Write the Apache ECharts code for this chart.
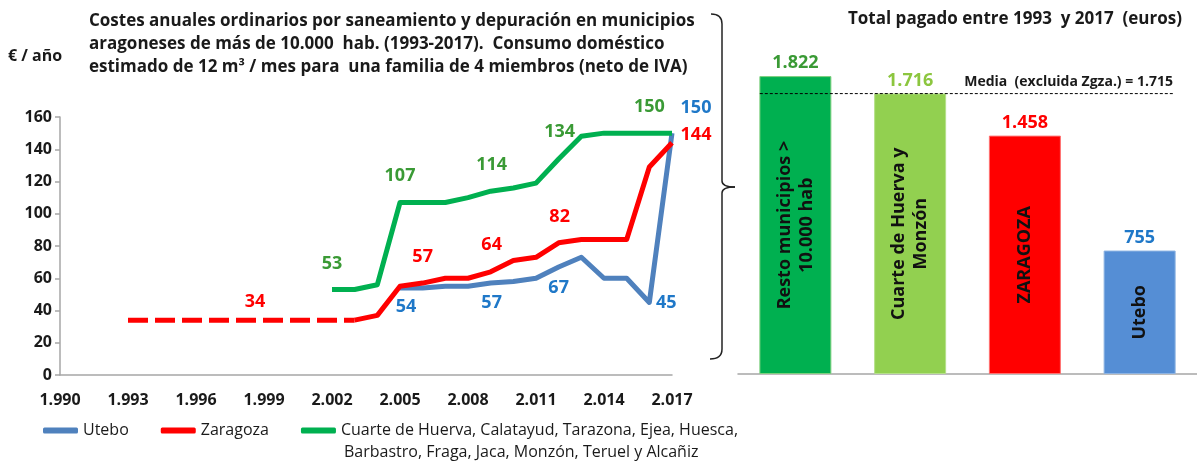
<!DOCTYPE html>
<html>
<head>
<meta charset="utf-8">
<script src="https://cdn.jsdelivr.net/npm/echarts@6/dist/echarts.min.js"></script>
<style>
	html, body { margin: 0; padding: 0; background: #fff; }
	#myChart { width: 1197px; height: 461px; }
</style>
</head>
<body>
<div id="myChart"></div>
<script type="text/javascript">
	// valores (€ / año)
	var earlyYears = [1993, 1994, 1995, 1996, 1997, 1998, 1999, 2000, 2001, 2002, 2003];
	var zaragozaEarly = [34, 34, 34, 34, 34, 34, 34, 34, 34, 34, 34];
	var years = [2002, 2003, 2004, 2005, 2006, 2007, 2008, 2009, 2010, 2011, 2012, 2013, 2014, 2015, 2016, 2017];
	var cuarte = [53, 53, 56, 107, 107, 107, 110, 114, 116, 119, 134, 148, 150, 150, 150, 150];
	var zaragoza = [null, 34, 37, 55, 57, 60, 60, 64, 71, 73, 82, 84, 84, 84, 129, 144];
	var utebo = [null, null, null, 54, 54, 55, 55, 57, 58, 60, 67, 73, 60, 60, 45, 150];
	// años con etiqueta de valor
	var cuarteLabelYears = [2002, 2005, 2009, 2012, 2016];
	var zaragozaLabelYears = [1999, 2006, 2009, 2012, 2017];
	var uteboLabelYears = [2005, 2009, 2012, 2016, 2017];

	// total pagado 1993-2017 (euros)
	var barNames = ['Resto municipios >\n10.000 hab', 'Cuarte de Huerva y\nMonzón', 'ZARAGOZA', 'Utebo'];
	var barTotals = [1822, 1716, 1458, 755];
	var mediaTotal = 1715;

	var cuarteName = 'Cuarte de Huerva, Calatayud, Tarazona, Ejea, Huesca, Barbastro, Fraga, Jaca, Monzón, Teruel y Alcañiz';
	var FONT = 'Open Sans';

	function miles(n) {
		if (n < 1000) return String(n);
		var r = String(n % 1000);
		while (r.length < 3) r = '0' + r;
		return Math.floor(n / 1000) + '.' + r;
	}

	// desplazamiento de cada etiqueta respecto a su punto
	var labelOffsets = {
		cuarte: { 2002: [0, -26], 2005: [0, -27], 2009: [1, -26], 2012: [1, -27], 2016: [0, -26] },
		zaragoza: { 1999: [-9, -18], 2006: [0, -26], 2009: [1, -27], 2012: [1, -26], 2017: [24, -8] },
		utebo: { 2005: [6, 19], 2009: [1, 20], 2012: [0, 21], 2016: [17, 0], 2017: [24, -25] }
	};

	function buildData(xs, ys, labelYears, key, color) {
		var out = [];
		for (var i = 0; i < xs.length; i++) {
			if (ys[i] == null) continue;
			var item = { value: [xs[i], ys[i]] };
			if (labelYears.indexOf(xs[i]) >= 0) {
				item.label = {
					show: true,
					position: 'inside',
					offset: labelOffsets[key][xs[i]],
					color: color,
					fontFamily: FONT,
					fontWeight: 'bold',
					fontSize: 18
				};
			}
			out.push(item);
		}
		return out;
	}

	var blue = '#4F81BD', red = '#FF0000', green = '#00B050';
	var blueTxt = '#1F78C8', greenTxt = '#3A9A35';
	var brace = { stroke: '#222', lineWidth: 1.5, fill: null };

	var myChart = echarts.init(document.getElementById('myChart'));
	var option = {
		animation: false,
		title: [
			{
				text: 'Costes anuales ordinarios por saneamiento y depuración en municipios\naragoneses de más de 10.000  hab. (1993-2017).  Consumo doméstico\nestimado de 12 m³ / mes para  una familia de 4 miembros (neto de IVA)',
				left: 89, top: 10, padding: 0,
				textStyle: { fontFamily: FONT, fontWeight: 'bold', fontSize: 17, lineHeight: 23, color: '#1a1a1a' }
			},
			{
				text: '€ / año',
				left: 8, top: 48, padding: 0,
				textStyle: { fontFamily: FONT, fontWeight: 'bold', fontSize: 16, color: '#1a1a1a' }
			},
			{
				text: 'Total pagado entre 1993  y 2017  (euros)',
				left: 848, top: 11, padding: 0,
				textStyle: { fontFamily: FONT, fontWeight: 'bold', fontSize: 17, color: '#1a1a1a' }
			},
			{
				// segunda línea de la leyenda verde
				text: 'Barbastro, Fraga, Jaca, Monzón, Teruel y Alcañiz',
				left: 344, top: 442, padding: 0,
				textStyle: { fontFamily: FONT, fontWeight: 'normal', fontSize: 16, lineHeight: 21, color: '#1a1a1a' }
			}
		],
		legend: {
			left: 43, top: 420, padding: 0,
			itemWidth: 35, itemHeight: 6, itemGap: 32,
			icon: 'roundRect',
			textStyle: { fontFamily: FONT, fontSize: 16, lineHeight: 21, color: '#1a1a1a' },
			formatter: function (name) {
				return name === cuarteName ? 'Cuarte de Huerva, Calatayud, Tarazona, Ejea, Huesca,' : name;
			},
			data: ['Utebo', 'Zaragoza', cuarteName]
		},
		grid: [
			{ left: 60, top: 117, width: 612, height: 258 },
			{ left: 738, top: 47, width: 463, height: 327 }
		],
		xAxis: [
			{
				gridIndex: 0, type: 'value', min: 1990, max: 2017, interval: 3,
				axisLine: { lineStyle: { color: '#A6A6A6', width: 1.5 } },
				axisTick: { show: false },
				splitLine: { show: false },
				axisLabel: { formatter: miles, margin: 17, fontFamily: FONT, fontWeight: 'bold', fontSize: 16, color: '#1a1a1a' }
			},
			{
				gridIndex: 1, type: 'category', data: barNames,
				axisLine: { lineStyle: { color: '#A6A6A6', width: 1.5 } },
				axisTick: { length: 5, lineStyle: { color: '#A6A6A6', width: 1.5 } },
				axisLabel: { show: false }
			},
			{ gridIndex: 1, type: 'value', min: 0, max: 4, show: false }
		],
		yAxis: [
			{
				gridIndex: 0, type: 'value', min: 0, max: 160, interval: 20,
				axisLine: { show: true, lineStyle: { color: '#A6A6A6', width: 1.5 } },
				axisTick: { show: true, length: 5, lineStyle: { color: '#A6A6A6', width: 1.5 } },
				splitLine: { show: false },
				axisLabel: { margin: 8, fontFamily: FONT, fontWeight: 'bold', fontSize: 16, color: '#1a1a1a' }
			},
			{ gridIndex: 1, type: 'value', min: 0, max: 2000, show: false }
		],
		series: [
			{
				name: 'Zaragoza', type: 'line', xAxisIndex: 0, yAxisIndex: 0,
				symbol: 'circle', symbolSize: 0,
				lineStyle: { color: red, width: 5, type: [20, 7] },
				itemStyle: { color: red },
				data: buildData(earlyYears, zaragozaEarly, zaragozaLabelYears, 'zaragoza', red)
			},
			{
				name: 'Utebo', type: 'line', xAxisIndex: 0, yAxisIndex: 0,
				symbol: 'circle', symbolSize: 0,
				lineStyle: { color: blue, width: 5, join: 'round' },
				itemStyle: { color: blue },
				data: buildData(years, utebo, uteboLabelYears, 'utebo', blueTxt)
			},
			{
				name: 'Zaragoza', type: 'line', xAxisIndex: 0, yAxisIndex: 0,
				symbol: 'circle', symbolSize: 0,
				lineStyle: { color: red, width: 5, join: 'round' },
				itemStyle: { color: red },
				data: buildData(years, zaragoza, zaragozaLabelYears, 'zaragoza', red)
			},
			{
				name: cuarteName, type: 'line', xAxisIndex: 0, yAxisIndex: 0,
				symbol: 'circle', symbolSize: 0,
				lineStyle: { color: green, width: 5, join: 'round' },
				itemStyle: { color: green },
				data: buildData(years, cuarte, cuarteLabelYears, 'cuarte', greenTxt)
			},
			{
				name: 'total', type: 'bar', xAxisIndex: 1, yAxisIndex: 1,
				barWidth: 72,
				data: barTotals.map(function (v, i) {
					var fill = ['#00B050', '#92D050', '#FF0000', '#558ED5'][i];
					var edge = ['#7FD07F', '#B5E08A', '#FF7070', '#8DB3E2'][i];
					var txt = [greenTxt, '#8CC63F', '#FF0000', '#1F78C8'][i];
					return {
						value: v,
						itemStyle: { color: fill, borderColor: edge, borderWidth: 1 },
						label: { color: txt }
					};
				}),
				label: {
					show: true, position: 'top', distance: 4,
					formatter: function (p) { return miles(p.value); },
					fontFamily: FONT, fontWeight: 'bold', fontSize: 18
				}
			},
			{
				name: 'nombres', type: 'bar', xAxisIndex: 1, yAxisIndex: 1,
				barWidth: 72, barGap: '-100%',
				itemStyle: { color: 'rgba(0,0,0,0)' },
				data: barTotals,
				label: {
					show: true, position: 'inside', rotate: 90,
					formatter: function (p) { return p.name; },
					fontFamily: FONT, fontWeight: 'bold', fontSize: 18, lineHeight: 22, color: '#111'
				}
			},
			{
				name: 'media', type: 'line', xAxisIndex: 2, yAxisIndex: 1,
				symbol: 'none',
				lineStyle: { color: '#000', width: 1, type: [3, 2] },
				data: [
					[0.19, mediaTotal],
					{
						value: [3.79, mediaTotal],
						symbol: 'circle', symbolSize: 0,
						label: {
							show: true, position: 'top', align: 'right', distance: 5,
							formatter: 'Media  (excluida Zgza.) = ' + miles(mediaTotal),
							fontFamily: FONT, fontWeight: 'bold', fontSize: 14, color: '#1a1a1a'
						}
					}
				]
			}
		],
		graphic: [
			{ type: 'bezierCurve', shape: { x1: 711, y1: 14, cpx1: 722, cpy1: 14, x2: 722, y2: 24 }, style: brace },
			{ type: 'line', shape: { x1: 722, y1: 24, x2: 722, y2: 181 }, style: brace },
			{ type: 'bezierCurve', shape: { x1: 722, y1: 181, cpx1: 722, cpy1: 187, x2: 735, y2: 187 }, style: brace },
			{ type: 'bezierCurve', shape: { x1: 735, y1: 187, cpx1: 722, cpy1: 187, x2: 722, y2: 193 }, style: brace },
			{ type: 'line', shape: { x1: 722, y1: 193, x2: 722, y2: 349 }, style: brace },
			{ type: 'bezierCurve', shape: { x1: 722, y1: 349, cpx1: 722, cpy1: 359, x2: 710, y2: 359 }, style: brace }
		]
	};
	myChart.setOption(option);
</script>
</body>
</html>
